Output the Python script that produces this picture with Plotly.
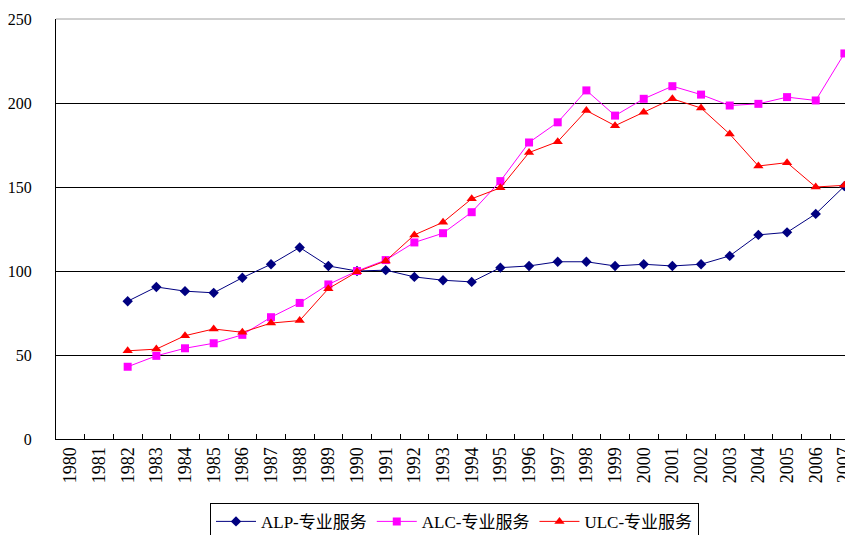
import plotly.graph_objects as go

years = [str(y) for y in range(1980, 2008)]

alp = [None, None, 82, 90.5, 88, 87, 96, 104, 114, 103, 100, 100.5, 96.5, 94.5, 93.5,
       102, 103, 105.5, 105.5, 103, 104, 103, 104, 109, 121.5, 123, 134, 150.5]
alc = [None, None, 43, 49.5, 54, 57, 62, 72.5, 81, 92, 100, 106.5, 117, 122.5, 135,
       153.5, 176.5, 188.5, 207.5, 192.5, 202.5, 210, 205, 198.5, 199.5, 203.5, 201.5, 229.5]
ulc = [None, None, 52.5, 53.5, 61.5, 65.5, 63.5, 69, 70.5, 89.5, 99.5, 106, 121.5, 129, 143,
       149.5, 170.5, 177, 195.5, 186.5, 194.5, 202.5, 197, 181.5, 162.5, 164.5, 150, 151]

names = ["ALP-专业服务", "ALC-专业服务", "ULC-专业服务"]
colors = ["#000080", "#FF00FF", "#FF0000"]
symbols = ["diamond", "square", "triangle-up"]
sizes = [8, 8, 9]

font_fam = "Liberation Serif, Noto Sans CJK SC, serif"

fig = go.Figure()
for vals, nm, c, s, sz in zip([alp, alc, ulc], names, colors, symbols, sizes):
    fig.add_trace(go.Scatter(
        x=years, y=vals, name=nm, mode="lines+markers",
        line=dict(color=c, width=1),
        marker=dict(symbol=s, size=sz, color=c),
        connectgaps=False, cliponaxis=False,
    ))

# the page body has an 8px margin, so the figure is offset by 8px
fig.update_layout(
    width=853, height=535,
    margin=dict(l=48, r=8, t=11, b=104, autoexpand=False),
    paper_bgcolor="white", plot_bgcolor="white",
    font=dict(family=font_fam, size=14, color="black"),
    showlegend=True,
    legend=dict(
        orientation="h", x=0.5, xanchor="center", y=-0.152, yanchor="top",
        bordercolor="black", borderwidth=1,
        font=dict(family=font_fam, size=17, color="black"),
        itemwidth=40, tracegroupgap=0,
    ),
    xaxis=dict(
        type="category", range=[-0.5, 27.3], automargin=False,
        showline=True, linecolor="black", linewidth=1,
        ticks="inside", tickson="boundaries", ticklen=5, tickcolor="black",
        tickangle=-90, showgrid=False, zeroline=False,
        tickfont=dict(family=font_fam, size=18),
    ),
    yaxis=dict(
        range=[0, 250], tickvals=[0, 50, 100, 150, 200, 250], automargin=False,
        showline=True, linecolor="black", linewidth=1,
        showgrid=True, gridcolor="black", gridwidth=1,
        zeroline=False, ticks="", ticklabelstandoff=20,
        tickfont=dict(family=font_fam, size=16),
    ),
    shapes=[dict(type="line", xref="paper", yref="paper", x0=0, x1=1, y0=1, y1=1,
                 line=dict(color="#A0A0A0", width=1), layer="above")],
)

fig.write_html("out.html")
